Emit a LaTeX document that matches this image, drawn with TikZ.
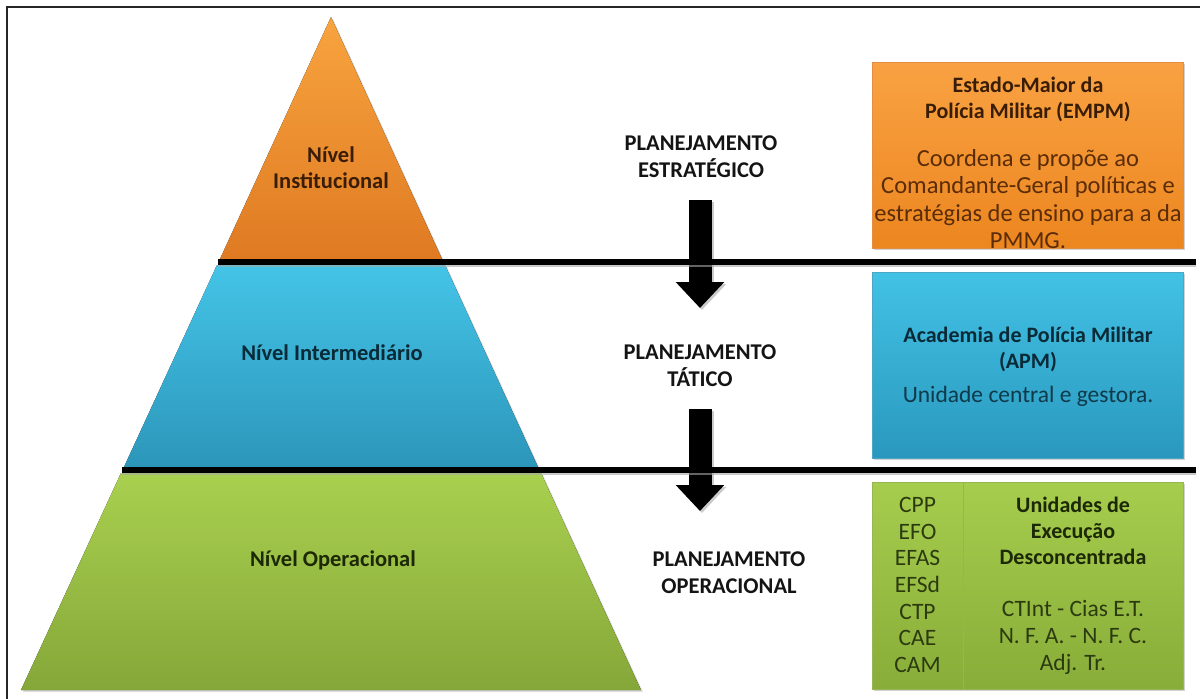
\documentclass[tikz,border=0pt]{standalone}
\usepackage{fontspec}
\setmainfont{Carlito}
\usetikzlibrary{shadows,arrows.meta}

\definecolor{orgTop}{HTML}{F8A43F}
\definecolor{orgBot}{HTML}{DF7A22}
\definecolor{bluTop}{HTML}{44C4E7}
\definecolor{bluBot}{HTML}{2C96BA}
\definecolor{grnTop}{HTML}{A9D04F}
\definecolor{grnBot}{HTML}{85A739}
\definecolor{boxOrgTop}{HTML}{F9A243}
\definecolor{boxOrgBot}{HTML}{EC861F}
\definecolor{boxBluTop}{HTML}{42C2E5}
\definecolor{boxBluBot}{HTML}{2A98BE}
\definecolor{boxGrnTop}{HTML}{A6CD4D}
\definecolor{boxGrnBot}{HTML}{88AD39}
\definecolor{txtOrg}{HTML}{3A1D06}
\definecolor{txtOrgBody}{HTML}{5B2C08}
\definecolor{txtBlu}{HTML}{0A2A37}
\definecolor{txtBluBody}{HTML}{0F3A4A}
\definecolor{txtGrn}{HTML}{1C2806}
\definecolor{txtGrnBody}{HTML}{2C3A10}
\definecolor{planTxt}{HTML}{141414}
\definecolor{frameCol}{HTML}{262626}

\tikzset{
  lvltext/.style={font=\fontsize{22.5}{26}\selectfont\bfseries, align=center},
  plantext/.style={font=\fontsize{22.5}{27}\selectfont\bfseries, align=center, text=planTxt},
  boxtitle/.style={font=\fontsize{22}{26}\selectfont\bfseries, align=center},
  boxbody/.style={font=\fontsize{24.5}{27.5}\selectfont, align=center},
  bodysmall/.style={font=\fontsize{23.5}{27}\selectfont, align=center},
  colbody/.style={font=\fontsize{23.5}{26.7}\selectfont, align=center},
  panel/.style={rectangle, inner sep=0pt, draw=#1, line width=0.8pt,
    drop shadow={opacity=0.35, shadow xshift=2pt, shadow yshift=-2pt}},
  layer/.style={drop shadow={opacity=0.25, shadow xshift=2pt, shadow yshift=-2pt}},
  divider/.style={line width=6pt, black,
    preaction={draw, line width=6pt, black!35, opacity=0.6,
      transform canvas={yshift=-2pt}}},
  blockarrow/.style={line width=23pt, black,
    -{Triangle[width=47pt, length=26pt]},
    preaction={draw, line width=23pt, black!40, opacity=0.5,
      transform canvas={xshift=2pt, yshift=-2pt},
      -{Triangle[width=47pt, length=26pt]}}},
}

\begin{document}
\begin{tikzpicture}[x=1pt, y=-1pt]
  \useasboundingbox (0,0) rectangle (1200,699);
  \fill[white] (0,0) rectangle (1200,699);

  % outer frame
  \draw[frameCol, line width=1.6pt] (7,699) -- (7,7) -- (1200,7);

  % pyramid layers
  \fill[layer, top color=orgTop, bottom color=orgBot]
    (331,17) -- (442,259) -- (220,259) -- cycle;
  \fill[layer, top color=bluTop, bottom color=bluBot]
    (217,265) -- (445,265) -- (538,467) -- (124,467) -- cycle;
  \fill[layer, top color=grnTop, bottom color=grnBot]
    (121,473) -- (541,473) -- (641,690) -- (21,690) -- cycle;

  % flow arrows between planning levels
  \coordinate (a1s) at (700,200);
  \coordinate (a1e) at (700,308);
  \coordinate (a2s) at (700,409);
  \coordinate (a2e) at (700,511);
  \draw[blockarrow] (a1s) -- (a1e);
  \draw[blockarrow] (a2s) -- (a2e);

  % level separators
  \draw[divider] (218,262) -- (1196,262);
  \draw[divider] (122,470) -- (1196,470);

  % level labels
  \node[lvltext, text=txtOrg] (nInst) at (331,168) {Nível\\Institucional};
  \node[lvltext, text=txtBlu] (nInter) at (332,353) {Nível Intermediário};
  \node[lvltext, text=txtGrn] (nOper) at (333,560) {Nível Operacional};

  % planning labels
  \node[plantext] (pEst) at (701,157) {PLANEJAMENTO\\ESTRATÉGICO};
  \node[plantext] (pTat) at (700,366) {PLANEJAMENTO\\TÁTICO};
  \node[plantext] (pOp) at (729,573) {PLANEJAMENTO\\OPERACIONAL};

  % right-hand panels
  \node[panel=orgBot!85!white, top color=boxOrgTop, bottom color=boxOrgBot,
        minimum width=311pt, minimum height=186pt] (bEMPM) at (1027.5,155) {};
  \node[boxtitle, text=txtOrg] (tEMPM) at (1028,99)
    {Estado-Maior da\\Polícia Militar (EMPM)};
  \node[boxbody, text=txtOrgBody] (dEMPM) at (1028,199)
    {Coordena e propõe ao\\Comandante-Geral políticas e\\estratégias de ensino para a da\\PMMG.};

  \node[panel=bluBot!85!white, top color=boxBluTop, bottom color=boxBluBot,
        minimum width=311pt, minimum height=186pt] (bAPM) at (1027.5,365) {};
  \node[boxtitle, text=txtBlu] (tAPM) at (1028,349)
    {Academia de Polícia Militar\\(APM)};
  \node[bodysmall, text=txtBluBody] (dAPM) at (1028,396)
    {Unidade central e gestora.};

  \node[panel=grnBot!85!white, top color=boxGrnTop, bottom color=boxGrnBot,
        minimum width=91pt, minimum height=207pt] (bCol) at (917.5,585.5) {};
  \node[panel=grnBot!85!white, top color=boxGrnTop, bottom color=boxGrnBot,
        minimum width=220pt, minimum height=207pt] (bUED) at (1073,585.5) {};
  \node[colbody, text=txtGrnBody] (lCol) at (917.5,585)
    {CPP\\EFO\\EFAS\\EFSd\\CTP\\CAE\\CAM};
  \node[boxtitle, text=txtGrn] (tUED) at (1073,531)
    {Unidades de\\Execução\\Desconcentrada};
  \node[colbody, text=txtGrnBody] (dUED) at (1073,637.5)
    {CTInt - Cias E.T.\\N. F. A. - N. F. C.\\Adj. Tr.};
\end{tikzpicture}
\end{document}
